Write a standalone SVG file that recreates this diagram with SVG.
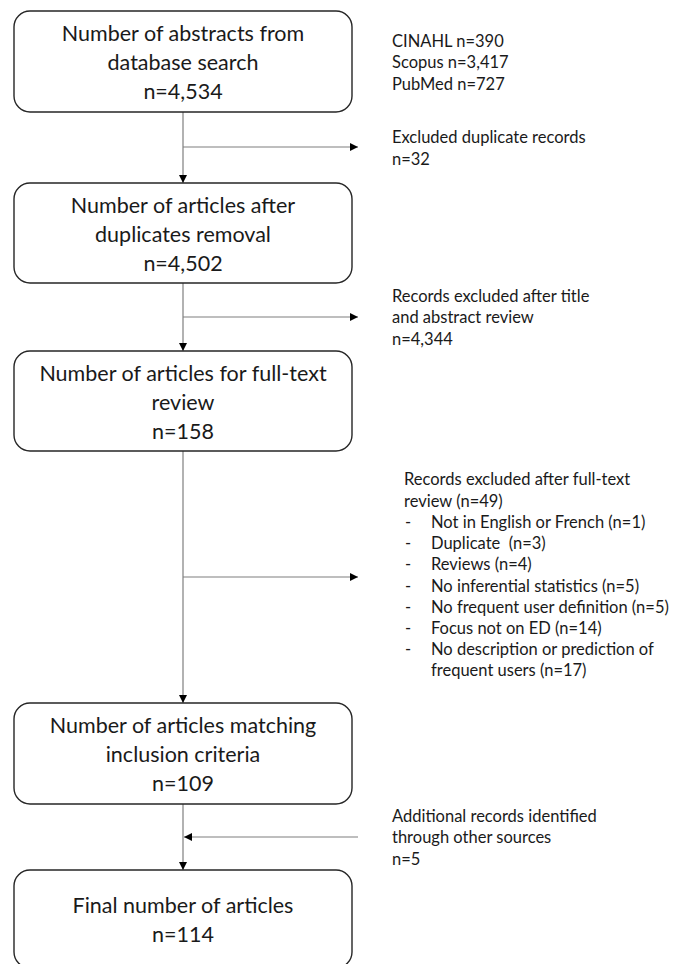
<svg xmlns="http://www.w3.org/2000/svg" width="677" height="964" viewBox="0 0 677 964">
<style>
.box{fill:#fff;stroke:#262626;stroke-width:1.4}
.bt{font-family:Lato,"Open Sans",sans-serif;font-size:21.5px;fill:#1a1a1a;text-anchor:middle}
.st{font-family:Lato,"Open Sans",sans-serif;font-size:16.5px;fill:#1a1a1a}
.ln{stroke:#7f7f7f;stroke-width:1.2;fill:none}
</style>
<defs>
<marker id="ah" viewBox="0 0 10 10" refX="10" refY="5" markerWidth="9" markerHeight="8" markerUnits="userSpaceOnUse" orient="auto">
<path d="M0,0 L10,5 L0,10 z" fill="#000"/>
</marker>
</defs>
<rect width="677" height="964" fill="#fff"/>
<g id="connectors">
<line class="ln" x1="183" y1="112" x2="183" y2="183" marker-end="url(#ah)"/>
<line class="ln" x1="183" y1="147" x2="358" y2="147" marker-end="url(#ah)"/>
<line class="ln" x1="183" y1="283" x2="183" y2="351" marker-end="url(#ah)"/>
<line class="ln" x1="183" y1="317" x2="358" y2="317" marker-end="url(#ah)"/>
<line class="ln" x1="183" y1="451" x2="183" y2="703" marker-end="url(#ah)"/>
<line class="ln" x1="183" y1="577" x2="358" y2="577" marker-end="url(#ah)"/>
<line class="ln" x1="183" y1="804" x2="183" y2="870" marker-end="url(#ah)"/>
<line class="ln" x1="358" y1="837" x2="184" y2="837" marker-end="url(#ah)"/>
</g>
<g id="n1">
<rect class="box" x="14" y="11" width="338" height="101" rx="16"/>
<text class="bt" x="183" y="41">Number of abstracts from</text>
<text class="bt" x="183" y="70">database search</text>
<text class="bt" x="183" y="99">n=4,534</text>
</g>
<g id="n2">
<rect class="box" x="14" y="183" width="338" height="100" rx="16"/>
<text class="bt" x="183" y="213">Number of articles after</text>
<text class="bt" x="183" y="242">duplicates removal</text>
<text class="bt" x="183" y="271">n=4,502</text>
</g>
<g id="n3">
<rect class="box" x="14" y="351" width="338" height="100" rx="16"/>
<text class="bt" x="183" y="381">Number of articles for full-text</text>
<text class="bt" x="183" y="410">review</text>
<text class="bt" x="183" y="439">n=158</text>
</g>
<g id="n4">
<rect class="box" x="14" y="703" width="338" height="101" rx="16"/>
<text class="bt" x="183" y="733">Number of articles matching</text>
<text class="bt" x="183" y="762">inclusion criteria</text>
<text class="bt" x="183" y="791">n=109</text>
</g>
<g id="n5">
<rect class="box" x="14" y="870" width="338" height="98" rx="16"/>
<text class="bt" x="183" y="913">Final number of articles</text>
<text class="bt" x="183" y="942">n=114</text>
</g>
<g id="sources">
<text class="st" x="392" y="47">CINAHL n=390</text>
<text class="st" x="392" y="68">Scopus n=3,417</text>
<text class="st" x="392" y="90">PubMed n=727</text>
</g>
<g id="excl1">
<text class="st" x="392" y="143">Excluded duplicate records</text>
<text class="st" x="392" y="165">n=32</text>
</g>
<g id="excl2">
<text class="st" x="392" y="302">Records excluded after title</text>
<text class="st" x="392" y="323">and abstract review</text>
<text class="st" x="392" y="345">n=4,344</text>
</g>
<g id="excl3">
<text class="st" x="404" y="485">Records excluded after full-text</text>
<text class="st" x="404" y="507">review (n=49)</text>
<text class="st" x="405" y="528">-</text><text class="st" x="431" y="528">Not in English or French (n=1)</text>
<text class="st" x="405" y="549">-</text><text class="st" x="431" y="549" xml:space="preserve">Duplicate  (n=3)</text>
<text class="st" x="405" y="570">-</text><text class="st" x="431" y="570">Reviews (n=4)</text>
<text class="st" x="405" y="592">-</text><text class="st" x="431" y="592">No inferential statistics (n=5)</text>
<text class="st" x="405" y="613">-</text><text class="st" x="431" y="613">No frequent user definition (n=5)</text>
<text class="st" x="405" y="634">-</text><text class="st" x="431" y="634">Focus not on ED (n=14)</text>
<text class="st" x="405" y="655">-</text><text class="st" x="431" y="655">No description or prediction of</text>
<text class="st" x="431" y="676">frequent users (n=17)</text>
</g>
<g id="added">
<text class="st" x="392" y="822">Additional records identified</text>
<text class="st" x="392" y="843">through other sources</text>
<text class="st" x="392" y="865">n=5</text>
</g>
</svg>
